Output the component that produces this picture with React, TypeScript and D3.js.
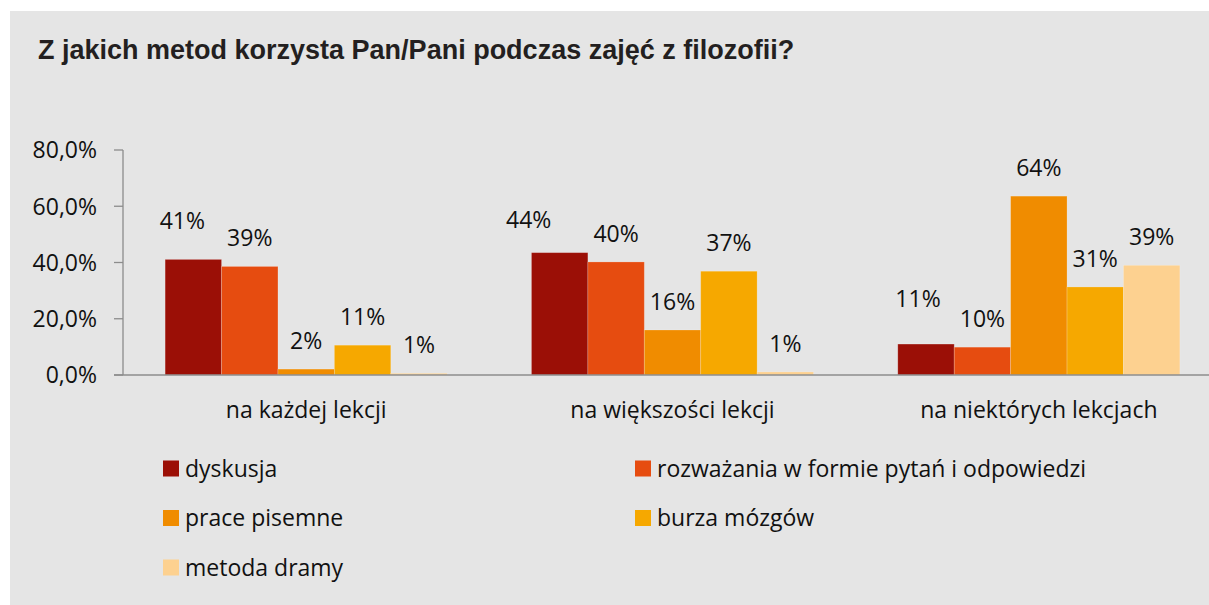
import React from 'react';
import * as d3 from 'd3';

/* ─── Data ─── */
const CATEGORIES = ['na każdej lekcji', 'na większości lekcji', 'na niektórych lekcjach'];
const SERIES = ['dyskusja', 'rozważania w formie pytań i odpowiedzi', 'prace pisemne', 'burza mózgów', 'metoda dramy'];
// values per series, one per category (percent)
const DYSKUSJA = [41.1, 43.5, 11.0];
const ROZWAZANIA = [38.6, 40.2, 9.9];
const PRACE = [2.1, 16.0, 63.6];
const BURZA = [10.6, 36.9, 31.3];
const DRAMA = [0.6, 1.1, 39.0];
const VALUES = [DYSKUSJA, ROZWAZANIA, PRACE, BURZA, DRAMA];
const Y_TICKS = [0, 20, 40, 60, 80];

/* ─── Style ─── */
const COLORS = ['#9b0f06', '#e64c10', '#f08c00', '#f6a800', '#fdd190'];
const BG = '#e5e5e5';
const AXIS = '#8c8c8c';
const FONT = "'Open Sans', 'Noto Sans', sans-serif";
const W = 1209;
const H = 605;
// hand-moved labels of the first series (as in the source chart)
const FIRST_NUDGE = [[-11, -10], [-31, -5], [-8, -17]];

export default function App() {
    const x0 = d3.scaleBand().domain(CATEGORIES).range([123, 1222]).padding(0);
    const bw = x0.bandwidth();
    const x1 = d3.scaleBand().domain(SERIES).range([bw * 0.115, bw * 0.885]).padding(0);
    const y = d3.scaleLinear().domain([0, 80]).range([375, 150]);
    const fmtTick = (d: number) => d.toFixed(1).replace('.', ',') + '%';

    const legendPos = SERIES.map((_, i) => ({ x: i % 2 === 0 ? 163 : 635, y: 468.5 + Math.floor(i / 2) * 49.5 }));

    return (
        <svg width={W} height={H} style={{ position: 'absolute', left: 0, top: 0, display: 'block' }}>
            <rect x={10} y={11} width={W - 10} height={H - 11} fill={BG} />
            <text x={38} y={59} fontFamily="'Liberation Sans', Arial, sans-serif" fontWeight={700} fontSize={27} fill="#231f20">
                Z jakich metod korzysta Pan/Pani podczas zajęć z filozofii?
            </text>

            {/* y axis */}
            <line x1={123} x2={123} y1={y(80)} y2={y(0)} stroke={AXIS} strokeWidth={1.3} />
            {Y_TICKS.map(t => (
                <g key={t}>
                    <line x1={114} x2={123} y1={y(t)} y2={y(t)} stroke={AXIS} strokeWidth={1.3} />
                    <text x={97} y={y(t)} dy="0.36em" textAnchor="end" fontFamily={FONT} fontSize={23} fill="#111">
                        {fmtTick(t)}
                    </text>
                </g>
            ))}

            {/* bars */}
            {CATEGORIES.map((c, ci) => (
                <g key={c} transform={`translate(${x0(c)},0)`}>
                    {SERIES.map((s, si) => {
                        const v = VALUES[si][ci];
                        const bx = x1(s)!;
                        const nudge = si === 0 ? FIRST_NUDGE[ci] : [0, 0];
                        return (
                            <g key={s}>
                                <rect x={bx} y={y(v)} width={x1.bandwidth()} height={y(0) - y(v)} fill={COLORS[si]}
                                    stroke="rgba(255,255,255,0.25)" strokeWidth={0.8} />
                                <text x={bx + x1.bandwidth() / 2 + nudge[0]} y={y(v) - 20 + nudge[1]} textAnchor="middle"
                                    fontFamily={FONT} fontSize={23} fill="#111">
                                    {Math.round(v) + '%'}
                                </text>
                            </g>
                        );
                    })}
                    <text x={bw / 2} y={418} textAnchor="middle" fontFamily={FONT} fontSize={23} fill="#111">{c}</text>
                </g>
            ))}

            {/* x axis */}
            <line x1={114} x2={W} y1={y(0)} y2={y(0)} stroke={AXIS} strokeWidth={1.3} />

            {/* legend */}
            {SERIES.map((s, i) => (
                <g key={s} transform={`translate(${legendPos[i].x},${legendPos[i].y})`}>
                    <rect x={0} y={-8} width={16} height={16} fill={COLORS[i]} />
                    <text x={22} y={0} dy="0.36em" fontFamily={FONT} fontSize={23} fill="#111">{s}</text>
                </g>
            ))}
        </svg>
    );
}
